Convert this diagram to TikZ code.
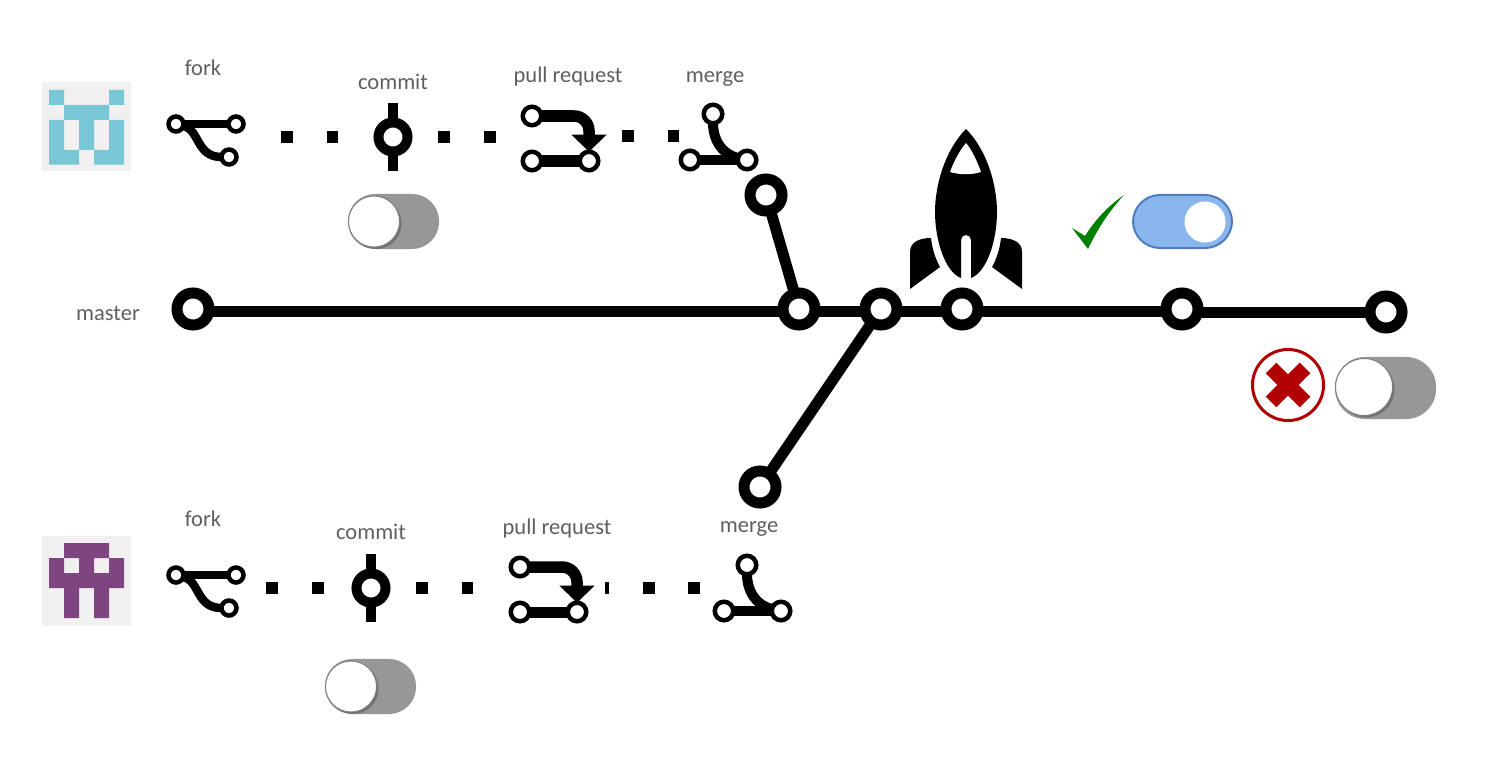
\documentclass[tikz,border=0pt]{standalone}
\usepackage{fontspec}
\setmainfont{Carlito}
\usetikzlibrary{arrows.meta,shadows}
\definecolor{labelgray}{HTML}{5F5F5F}
\definecolor{tilegray}{HTML}{F0F0F0}
\definecolor{pixteal}{HTML}{78C6D6}
\definecolor{pixplum}{HTML}{7F4580}
\definecolor{offgray}{HTML}{979797}
\definecolor{onblue}{HTML}{8AB6EE}
\definecolor{onedge}{HTML}{4F7DBB}
\definecolor{okgreen}{HTML}{008000}
\definecolor{badred}{HTML}{B00000}
\tikzset{
	tag/.style={anchor=base,text=labelgray,inner sep=0pt,font=\fontsize{6.4}{8}\selectfont},
	tile/.style={fill=tilegray,minimum size=0.89cm,inner sep=0pt},
	bigring/.style={circle,draw=black,fill=white,line width=0.11cm,minimum size=0.32cm,inner sep=0pt,outer sep=0pt},
	midring/.style={circle,draw=black,fill=white,line width=0.045cm,minimum size=0.185cm,inner sep=0pt,outer sep=0pt},
	tinyring/.style={circle,draw=black,fill=white,line width=0.045cm,minimum size=0.15cm,inner sep=0pt,outer sep=0pt},
	mainline/.style={line width=0.11cm},
	dots/.style={line width=0.12cm,dash pattern=on 0.12cm off 0.335cm},
	track/.style={fill=offgray,rounded corners=0.27cm,minimum width=0.91cm,minimum height=0.55cm,inner sep=0pt},
	knob/.style={circle,fill=white,minimum size=0.41cm,inner sep=0pt},
	greyknob/.style={knob,draw=gray,line width=0.01cm,minimum size=0.51cm,
		drop shadow={shadow xshift=0.02cm,shadow yshift=-0.02cm,fill=black,opacity=0.25}},
	forkicon/.pic={
		\node[tinyring] (-l) at (0,0){};
		\node[tinyring] (-r) at (60,0){};
		\node[tinyring] (-d) at (53,33){};
		\draw[line width=0.08cm] (-l)--(-r);
		\draw[line width=0.085cm] (-l) .. controls (24,6) and (20,33) .. (-d);
	},
	commiticon/.pic={
		\node[circle,draw=black,fill=white,line width=0.1cm,minimum size=0.29cm,inner sep=0pt,outer sep=0pt] (-c) at (0,0){};
		\coordinate (-n) at (0,-34);
		\coordinate (-s) at (0,34);
		\draw[line width=0.1cm] (-n)--(-c)(-c)--(-s);
	},
	pullicon/.pic={
		\node[midring] (-a) at (0,0){};
		\node[midring] (-b) at (0,45){};
		\node[midring] (-c) at (57,45){};
		\draw[line width=0.11cm] (-b)--(-c);
		\draw[line width=0.115cm,rounded corners=0.15cm,-{Triangle[length=0.17cm,width=0.34cm]}] (-a)-|(-c);
	},
	mergeicon/.pic={
		\node[midring] (-t) at (0,0){};
		\node[midring] (-l) at (-23,46){};
		\node[midring] (-r) at (34,46){};
		\draw[line width=0.1cm] (-l)--(-r);
		\draw[line width=0.1cm] (-t) .. controls (0,25) and (8,40) .. (-r);
	}
}
\begin{document}
\begin{tikzpicture}[x=0.01cm,y=-0.01cm]
	\useasboundingbox (0,0) rectangle (1492,776);

	% top contributor
	\node[tile] (tile1) at (86.5,126.5){};
	\fill[pixteal] (49,90) rectangle (64,105) (109,90) rectangle (124,105) (64,105) rectangle (109,120)
		(49,120) rectangle (64,164.5) (79,120) rectangle (94,150) (109,120) rectangle (124,164.5)
		(64,150) rectangle (79,164.5) (94,150) rectangle (109,164.5);
	\node[tag] (fork1) at (203,76){fork};
	\node[tag] (commit1) at (393,90){commit};
	\node[tag] (pull1) at (568,83){pull request};
	\node[tag] (merge1) at (715,83){merge};
	\pic (forkA) at (176,124){forkicon};
	\pic (commitA) at (393,137){commiticon};
	\pic (pullA) at (532,116){pullicon};
	\pic (mergeA) at (713,114){mergeicon};
	\coordinate (a1) at (281,137);
	\coordinate (a2) at (338,137);
	\coordinate (a3) at (438,137);
	\coordinate (a4) at (496,137);
	\coordinate (a5) at (622,136);
	\coordinate (a6) at (679,136);
	\draw[dots] (a1)--(a2);
	\draw[dots] (a3)--(a4);
	\draw[dots] (a5)--(a6);
	\node[track] (track1) at (393.5,221.5){};
	\node[greyknob] (knob1) at (374,221.5){};

	% master
	\node[tag] (master) at (108,320){master};
	\node[bigring] (m1) at (193,309){};
	\node[bigring] (m2) at (799,309){};
	\node[bigring] (m3) at (881,309){};
	\node[bigring] (m4) at (962,309){};
	\node[bigring] (m5) at (1182,309){};
	\node[bigring] (m6) at (1386,312){};
	\node[bigring] (b1) at (766,195){};
	\node[bigring] (b2) at (760,487){};
	\path[mainline,transform canvas={yshift=-0.025cm}] (m1)edge(m2)(m2)edge(m3)(m3)edge(m4)(m4)edge(m5);
	\draw[mainline] (m5.east|-m6)--(m6);
	\path[mainline] (b1)edge(m2)(m3)edge(b2);

	% rocket
	\fill (966,129) .. controls (945,150) and (935,185) .. (935,212) .. controls (935,240) and (945,272) .. (961,278)
		-- (961,240) arc (180:360:5) -- (971,278) .. controls (987,272) and (997,240) .. (997,212)
		.. controls (997,185) and (987,150) .. (966,129) -- cycle;
	\fill[white] (966,143) .. controls (960,150) and (954,161) .. (950,172) .. controls (960,175) and (971,175) .. (981,172)
		.. controls (977,161) and (972,150) .. (966,143) -- cycle;
	\fill (910,289) -- (910,252) .. controls (910,243) and (918,238) .. (931,238) .. controls (932,248) and (935,258) .. (940,267) -- cycle;
	\fill (1022,289) -- (1022,252) .. controls (1022,243) and (1014,238) .. (1001,238) .. controls (1000,248) and (997,258) .. (992,267) -- cycle;

	% passed
	\fill[okgreen] (1072,228) -- (1085,236) .. controls (1095,220) and (1108,206) .. (1124,195)
		.. controls (1110,210) and (1098,228) .. (1088,249) -- cycle;
	\node[track,fill=onblue,draw=onedge,line width=0.02cm,minimum width=0.99cm,minimum height=0.53cm] (track2) at (1182.5,221.5){};
	\node[knob] (knob2) at (1205,222){};

	% failed
	\node[circle,draw=badred,fill=white,line width=0.03cm,minimum size=0.71cm,inner sep=0pt] (fail) at (1288,385){};
	\draw[badred,line width=0.15cm] (1271,368)--(1305,402)(1305,368)--(1271,402);
	\node[track,minimum width=1.01cm,minimum height=0.62cm,rounded corners=0.3cm] (track3) at (1385.5,388){};
	\node[greyknob,minimum size=0.57cm] (knob3) at (1364,387){};

	% bottom contributor
	\node[tile] (tile2) at (86.5,581){};
	\fill[pixplum] (64,543) rectangle (109,558) (49,558) rectangle (64,588) (79,558) rectangle (94,573)
		(109,558) rectangle (124,588) (64,573) rectangle (109,588) (64,588) rectangle (79,618) (94,588) rectangle (109,618);
	\node[tag] (fork2) at (203,526){fork};
	\node[tag] (commit2) at (371,539){commit};
	\node[tag] (pull2) at (557,534){pull request};
	\node[tag] (merge2) at (749,532){merge};
	\pic (forkB) at (176,575){forkicon};
	\pic (commitB) at (371,588){commiticon};
	\pic (pullB) at (520,567){pullicon};
	\pic (mergeB) at (747,565){mergeicon};
	\coordinate (c1) at (266,588);
	\coordinate (c2) at (324,588);
	\coordinate (c3) at (416,588);
	\coordinate (c4) at (473,588);
	\coordinate (c5) at (605,588);
	\coordinate (c6) at (700,588);
	\draw[dots] (c1)--(c2);
	\draw[dots] (c3)--(c4);
	\draw[dots,dash phase=0.08cm] (c5)--(c6);
	\node[track] (track4) at (370.5,686.5){};
	\node[greyknob] (knob4) at (351,686.5){};
\end{tikzpicture}
\end{document}
